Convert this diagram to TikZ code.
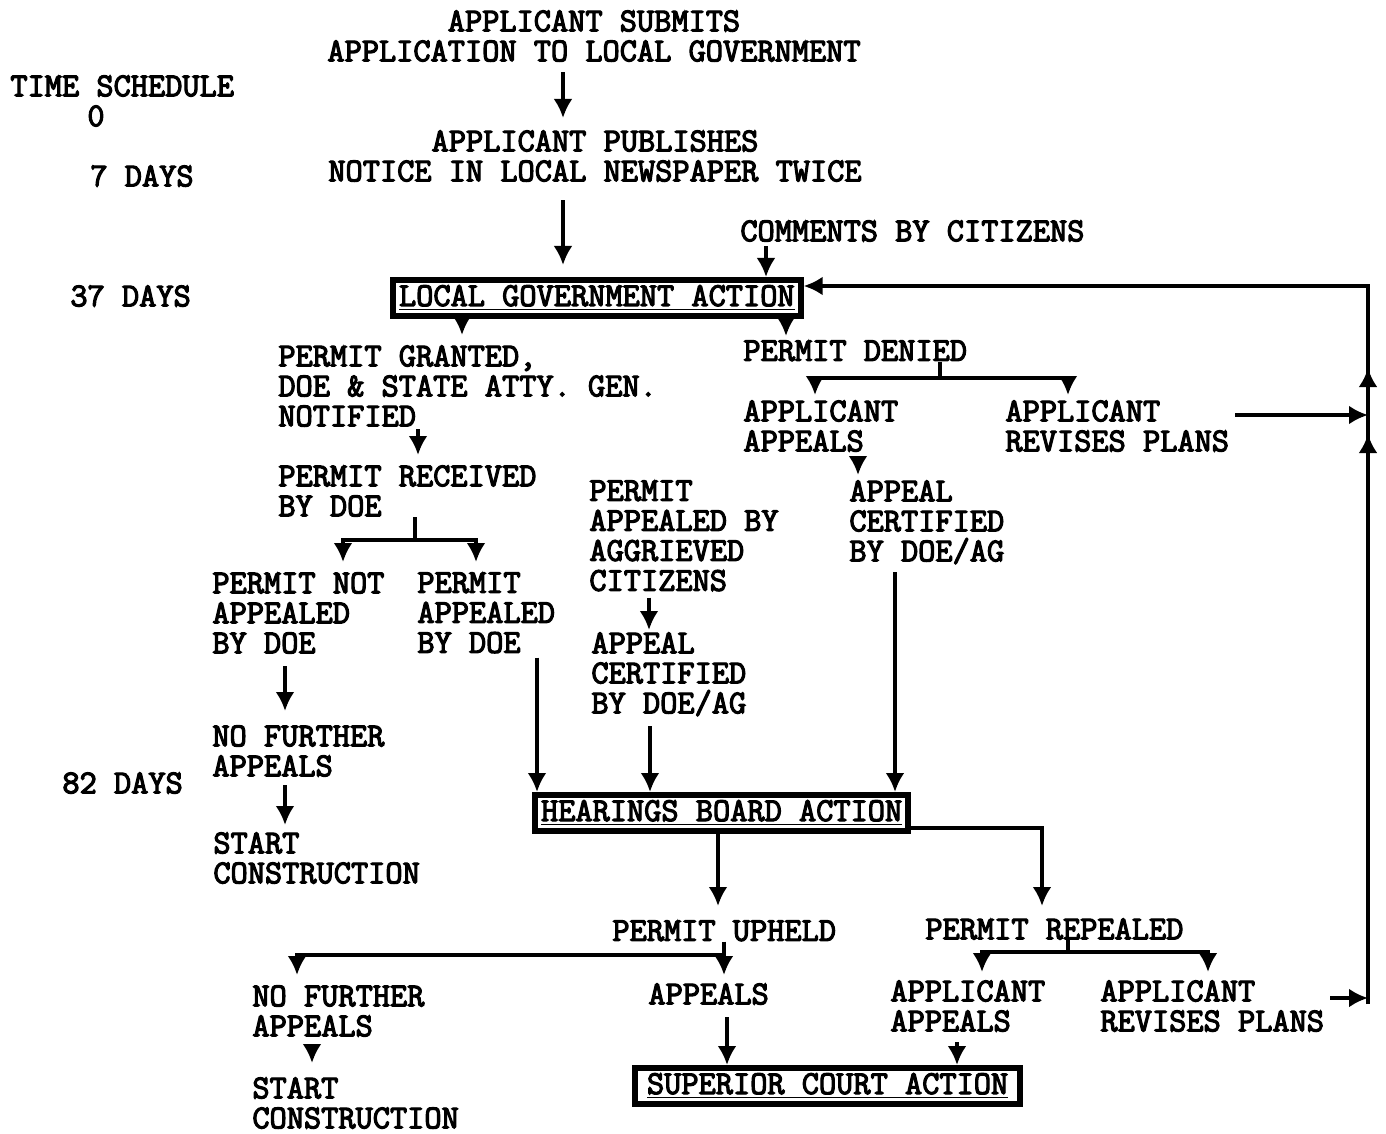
\documentclass[tikz,border=0pt]{standalone}
\usepackage{fontspec}
\usepackage{tikz}
\usetikzlibrary{arrows.meta,decorations.markings}

\newfontfamily\typeface[FakeBold=3.5]{Latin Modern Mono}
\newcommand{\typew}{\typeface\fontsize{16.7}{15}\selectfont}

\begin{document}
\begin{tikzpicture}[x=0.5pt, y=-0.5pt, >={Latex[length=9.5pt,width=9.5pt]},
	every node/.style={font=\typew, inner sep=0pt},
	lbl/.style={anchor=north west, align=left},
	actbox/.style={draw, line width=3pt, anchor=north west, inner xsep=3pt, inner ysep=2pt, text height=11pt, text depth=3pt},
	wire/.style={line width=2.1pt},
	go/.style={wire, ->}]
	\useasboundingbox (0,0) rectangle (1386,1134);
	% time schedule
	\node[lbl] (tsched) at (10,75) {TIME SCHEDULE};
	\node[lbl] (t0) at (87,105) {0};
	\node[lbl] (t7) at (90,165) {7 DAYS};
	\node[lbl] (t37) at (70,285) {37 DAYS};
	\node[lbl] (t82) at (62,772) {82 DAYS};
	% application
	\node[anchor=north, align=center] (submit) at (594,10) {APPLICANT SUBMITS\\APPLICATION TO LOCAL GOVERNMENT};
	\node[anchor=north, align=center] (publish) at (595,130) {APPLICANT PUBLISHES\\NOTICE IN LOCAL NEWSPAPER TWICE};
	\node[lbl] (comments) at (740,220) {COMMENTS BY CITIZENS};
	\node[actbox] (lga) at (390,277) {\underline{LOCAL GOVERNMENT ACTION}};
	% permit granted
	\node[lbl] (granted) at (278,345) {PERMIT GRANTED,\\DOE \& STATE ATTY. GEN.\\NOTIFIED};
	\node[lbl] (received) at (278,465) {PERMIT RECEIVED\\BY DOE};
	\node[lbl] (notdoe) at (212,572) {PERMIT NOT\\APPEALED\\BY DOE};
	\node[lbl] (bydoe) at (417,572) {PERMIT\\APPEALED\\BY DOE};
	\node[lbl] (nofurA) at (212,725) {NO FURTHER\\APPEALS};
	\node[lbl] (startA) at (213,832) {START\\CONSTRUCTION};
	\node[lbl] (aggr) at (589,480) {PERMIT\\APPEALED BY\\AGGRIEVED\\CITIZENS};
	\node[lbl] (certB) at (591,632) {APPEAL\\CERTIFIED\\BY DOE/AG};
	% permit denied
	\node[lbl] (denied) at (743,340) {PERMIT DENIED};
	\node[lbl] (appA) at (743,400) {APPLICANT\\APPEALS};
	\node[lbl] (revA) at (1005,400) {APPLICANT\\REVISES PLANS};
	\node[lbl] (certA) at (849,480) {APPEAL\\CERTIFIED\\BY DOE/AG};
	% hearings board
	\node[actbox] (hb) at (532,792) {\underline{HEARINGS BOARD ACTION}};
	\node[lbl] (upheld) at (612,920) {PERMIT UPHELD};
	\node[lbl] (repealed) at (925,918) {PERMIT REPEALED};
	\node[lbl] (nofurB) at (252,985) {NO FURTHER\\APPEALS};
	\node[lbl] (startB) at (252,1077) {START\\CONSTRUCTION};
	\node[lbl] (appealsB) at (648,983) {APPEALS};
	\node[lbl] (appC) at (890,980) {APPLICANT\\APPEALS};
	\node[lbl] (revC) at (1100,980) {APPLICANT\\REVISES PLANS};
	\node[actbox, inner xsep=6pt] (sc) at (632,1065) {\underline{SUPERIOR COURT ACTION}};

	% arrows, top part
	\draw[go, shorten <=5pt, shorten >=6pt] (submit.south -| 563,0) -- (publish.north -| 563,0);
	\draw[go, shorten <=9pt, shorten >=6pt] (publish.south -| 563,0) -- (lga.north -| 563,0);
	\draw[go, shorten <=2pt] (comments.south -| 766,0) -- (lga.north -| 766,0);
	\draw[go, shorten >=5pt] (lga.south -| 462,0) -- (granted.north -| 462,0);
	\draw[go, shorten >=2pt] (lga.south -| 786,0) -- (denied.north -| 786,0);
	% granted branch
	\draw[go, shorten <=1pt, shorten >=5pt] (granted.south -| 418,0) -- (received.north -| 418,0);
	\draw[wire] (received.south -| 415,0) -- (415,540) coordinate (rfork);
	\draw[go, shorten >=5pt] (rfork) -| (notdoe.north -| 343,0);
	\draw[go, shorten >=5pt] (rfork) -| (bydoe.north -| 476,0);
	\draw[go, shorten <=6pt, shorten >=7pt] (notdoe.south -| 285,0) -- (nofurA.north -| 285,0);
	\draw[go, shorten <=4pt, shorten >=3.5pt] (nofurA.south -| 285,0) -- (startA.north -| 285,0);
	\draw[go, shorten <=2pt] (bydoe.south -| 537,0) -- (hb.north -| 537,0);
	\draw[go, shorten <=3pt, shorten >=1pt] (aggr.south -| 649,0) -- (certB.north -| 649,0);
	\draw[go, shorten <=5pt] (certB.south -| 650,0) -- (hb.north -| 650,0);
	% denied branch
	\draw[wire] (denied.south -| 940,0) -- (940,378) coordinate (dfork);
	\draw[go, shorten >=2.5pt] (dfork) -| (appA.north -| 815,0);
	\draw[go, shorten >=2.5pt] (dfork) -| (revA.north -| 1068,0);
	\draw[go, shorten <=2pt, shorten >=2.5pt] (appA.south -| 858,0) -- (certA.north -| 858,0);
	\draw[go, shorten <=4pt] (certA.south -| 895,0) -- (hb.north -| 895,0);
	% hearings board results
	\draw[go, shorten >=7pt] (hb.south -| 718,0) -- (upheld.north -| 718,0);
	\draw[go, shorten >=6pt] ([yshift=3pt]hb.south east) -| (repealed.north -| 1042,0);
	\draw[go, shorten >=4pt] (upheld.south -| 724,0) -- (appealsB.north -| 724,0);
	\draw[go, shorten >=5pt] (724,955) -| (nofurB.north -| 297,0);
	\draw[go, shorten <=4pt, shorten >=7pt] (nofurB.south -| 312,0) -- (startB.north -| 312,0);
	\draw[go, shorten <=6pt] (appealsB.south -| 727,0) -- (sc.north -| 727,0);
	\draw[wire] (repealed.south -| 1068,0) -- (1068,952) coordinate (pfork);
	\draw[go, shorten >=4pt] (pfork) -| (appC.north -| 982,0);
	\draw[go, shorten >=4pt] (pfork) -| (revC.north -| 1208,0);
	\draw[go, shorten <=5pt] (appC.south -| 957,0) -- (sc.north -| 957,0);
	% return loop for revised plans
	\coordinate (retlow) at (1368,998);
	\coordinate (retmid) at (1368,415);
	\coordinate (rethigh) at (1368,286);
	\draw[go, shorten <=3pt] (revC.east |- retlow) -- (retlow);
	\draw[go, shorten <=3pt] (revA.east |- retmid) -- (retmid);
	\draw[go, postaction={decorate, decoration={markings,
		mark=at position 285pt with {\arrow{>}},
		mark=at position 318pt with {\arrow{>}}}}]
		([yshift=-3pt]retlow) -- (rethigh) -- (lga.east |- rethigh);
\end{tikzpicture}
\end{document}
